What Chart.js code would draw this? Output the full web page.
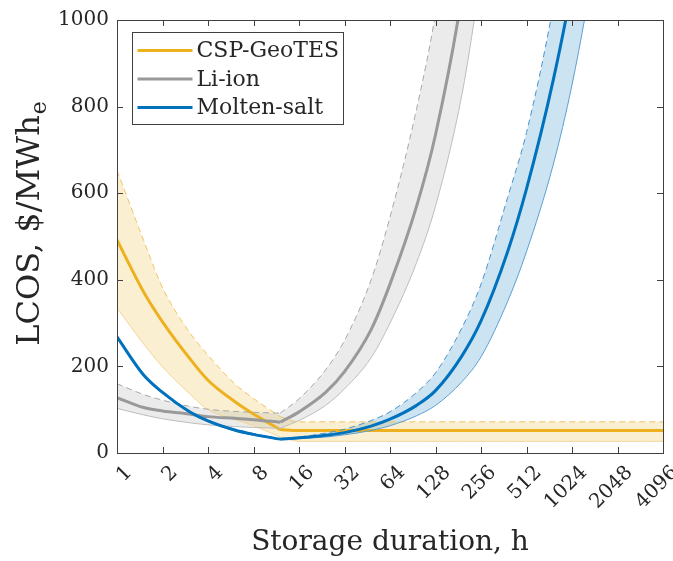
<!DOCTYPE html>
<html>
<head>
<meta charset="utf-8">
<script src="https://cdn.jsdelivr.net/npm/chart.js@4.4.1/dist/chart.umd.min.js"></script>
<style>
  html, body { margin: 0; padding: 0; background: #fff; }
  #wrap { width: 673px; height: 561px; position: relative; }
</style>
</head>
<body>
<div id="wrap"><canvas id="chart"></canvas></div>
<script>
const durations = [1, 1.5, 2, 3, 4, 6, 8, 12, 16, 24, 32, 48, 64, 96, 128, 192, 256, 384, 512, 768, 1024, 1536, 2048, 3072, 4096];
const kinkIndex = 7; // 12 h, where every curve bends

const xTickValues = [1, 2, 4, 8, 16, 32, 64, 128, 256, 512, 1024, 2048, 4096];
const yTickValues = [0, 200, 400, 600, 800, 1000];

// LCOS, $/MWh_e  (null = off the top of the plot)
const geoMid  = [492, 372, 303, 220, 168, 119, 90, 54, 52, 52, 52, 52, 52, 52, 52, 52, 52, 52, 52, 52, 52, 52, 52, 52, 52];
const geoHigh = [653, 491, 382, 280, 226, 160, 126, 84, 72, 72, 72, 72, 72, 72, 72, 72, 72, 72, 72, 72, 72, 72, 72, 72, 72];
const geoLow  = [335, 252, 199, 138, 100, 77, 63, 37, 27, 27, 27, 27, 27, 27, 27, 27, 27, 27, 27, 27, 27, 27, 27, 27, 27];

const liMid  = [128, 105, 97, 90, 84, 80, 77, 71, 95, 140, 188, 285, 390, 570, 735, 1060, 1400, null, null, null, null, null, null, null, null];
const liHigh = [160, 135, 122, 108, 101, 96, 94, 92, 125, 192, 260, 400, 545, 795, 1015, 1450, 1900, null, null, null, null, null, null, null, null];
const liLow  = [103, 88, 79, 70, 65, 61, 59, 57, 75, 110, 148, 220, 300, 440, 570, 830, 1100, null, null, null, null, null, null, null, null];

const msMid  = [268, 180, 140, 96, 74, 53, 43, 32, 35, 41, 47, 62, 78, 110, 144, 225, 305, 465, 610, 860, 1080, 1500, null, null, null];
const msHigh = [270, 182, 142, 98, 76, 55, 45, 33, 37, 46, 55, 75, 95, 140, 185, 290, 390, 590, 740, 1030, 1300, 1800, null, null, null];
const msLow  = [266, 178, 138, 94, 72, 51, 41, 31, 33, 37, 42, 52, 63, 86, 110, 165, 222, 350, 465, 665, 850, 1180, null, null, null];

const series = [
  { label: "Molten-salt", mid: msMid, high: msHigh, low: msLow,
    color: "#0072BD", band: "rgba(0, 114, 189, 0.2)", dash: "#4a93cb", edge: "#5c9fd2" },
  { label: "Li-ion", mid: liMid, high: liHigh, low: liLow,
    color: "#999999", band: "rgba(153, 153, 153, 0.2)", dash: "#a8a8a8", edge: "#bdbdbd" },
  { label: "CSP-GeoTES", mid: geoMid, high: geoHigh, low: geoLow,
    color: "#EDB120", band: "rgba(237, 177, 32, 0.2)", dash: "#f0c463", edge: "#f3d59a" },
];
const legendOrder = ["CSP-GeoTES", "Li-ion", "Molten-salt"];

const textColor = "#262626";
const axisColor = "#404040";
const serif = "'DejaVu Serif', 'Liberation Serif', serif";

function points(vals, from, to) {
  const out = [];
  for (let i = from; i <= to; i++) {
    if (vals[i] != null) out.push({ x: durations[i], y: vals[i] });
  }
  return out;
}

// each curve is split at the kink so the bend stays sharp
const datasets = [];
series.forEach((s) => {
  [[0, kinkIndex], [kinkIndex, durations.length - 1]].forEach(([a, b]) => {
    datasets.push({ data: points(s.mid, a, b), borderColor: s.color, borderWidth: 3 });
    const lowIndex = datasets.length + 1;
    datasets.push({
      data: points(s.high, a, b), borderColor: s.dash, borderWidth: 1, borderDash: [6, 4],
      fill: lowIndex, backgroundColor: s.band,
    });
    datasets.push({ data: points(s.low, a, b), borderColor: s.edge, borderWidth: 1 });
  });
});

const framePlugin = {
  id: "frame",
  afterDraw(chart) {
    const { ctx, chartArea: area, scales } = chart;
    const tick = 6;
    ctx.save();
    ctx.strokeStyle = axisColor;
    ctx.lineWidth = 1;
    ctx.beginPath();
    xTickValues.forEach((v) => {
      const x = Math.round(scales.x.getPixelForValue(v)) + 0.5;
      ctx.moveTo(x, area.bottom); ctx.lineTo(x, area.bottom - tick);
      ctx.moveTo(x, area.top); ctx.lineTo(x, area.top + tick);
    });
    yTickValues.forEach((v) => {
      const y = Math.round(scales.y.getPixelForValue(v)) + 0.5;
      ctx.moveTo(area.left, y); ctx.lineTo(area.left + tick, y);
      ctx.moveTo(area.right, y); ctx.lineTo(area.right - tick, y);
    });
    ctx.stroke();
    ctx.strokeRect(Math.round(area.left) + 0.5, Math.round(area.top) + 0.5,
      Math.round(area.right - area.left), Math.round(area.bottom - area.top));

    // y title with subscript e
    const main = "LCOS, $/MWh";
    ctx.font = "32px " + serif;
    const wMain = ctx.measureText(main).width;
    ctx.font = "22px " + serif;
    const wSub = ctx.measureText("e").width;
    ctx.translate(39, 224);
    ctx.rotate(-Math.PI / 2);
    ctx.fillStyle = textColor;
    ctx.textBaseline = "alphabetic";
    ctx.textAlign = "left";
    const start = -(wMain + wSub) / 2;
    ctx.font = "32px " + serif;
    ctx.fillText(main, start, 0);
    ctx.font = "22px " + serif;
    ctx.fillText("e", start + wMain + 1, 7);
    ctx.restore();

    // legend box in the upper left
    ctx.save();
    const box = { x: 132.5, y: 32.5, w: 211, h: 92 };
    ctx.fillStyle = "#ffffff";
    ctx.fillRect(box.x, box.y, box.w, box.h);
    ctx.strokeStyle = axisColor;
    ctx.lineWidth = 1;
    ctx.strokeRect(box.x, box.y, box.w, box.h);
    ctx.font = "22px " + serif;
    ctx.textBaseline = "middle";
    legendOrder.forEach((name, i) => {
      const s = series.find((d) => d.label === name);
      const y = box.y + 18 + i * 28.5;
      ctx.strokeStyle = s.color;
      ctx.lineWidth = 3;
      ctx.beginPath();
      ctx.moveTo(box.x + 5, y);
      ctx.lineTo(box.x + 60, y);
      ctx.stroke();
      ctx.fillStyle = textColor;
      ctx.fillText(name, box.x + 64, y + 1);
    });
    ctx.restore();
  },
};

new Chart(document.getElementById("chart"), {
  type: "line",
  data: { datasets },
  options: {
    responsive: true,
    maintainAspectRatio: false,
    animation: false,
    events: [],
    layout: { padding: { top: 17, right: 10, left: 0, bottom: 0 } },
    elements: {
      point: { radius: 0 },
      line: { cubicInterpolationMode: "monotone", fill: false },
    },
    plugins: {
      legend: { display: false },
      tooltip: { enabled: false },
      filler: { drawTime: "beforeDatasetsDraw" },
    },
    scales: {
      x: {
        type: "logarithmic",
        min: 1,
        max: 4096,
        grid: { display: false, drawTicks: false },
        border: { display: false },
        afterBuildTicks: (scale) => {
          scale.ticks = xTickValues.map((v) => ({ value: v }));
        },
        afterFit: (scale) => {
          scale.height = 108;
          scale.paddingLeft = 0;
          scale.paddingRight = 0;
        },
        ticks: {
          autoSkip: false,
          minRotation: 45,
          maxRotation: 45,
          padding: 8,
          labelOffset: 12,
          color: textColor,
          font: { family: serif, size: 20 },
          callback: (v) => String(v),
        },
        title: {
          display: true,
          text: "Storage duration, h",
          color: textColor,
          font: { family: serif, size: 28 },
          padding: { top: 0, bottom: 1 },
        },
      },
      y: {
        min: 0,
        max: 1000,
        grid: { display: false, drawTicks: false },
        border: { display: false },
        afterBuildTicks: (scale) => {
          scale.ticks = yTickValues.map((v) => ({ value: v }));
        },
        afterFit: (scale) => { scale.width = 117; },
        ticks: {
          padding: 8,
          color: textColor,
          font: { family: serif, size: 20 },
          callback: (v) => String(v),
        },
      },
    },
  },
  plugins: [framePlugin],
});
</script>
</body>
</html>
